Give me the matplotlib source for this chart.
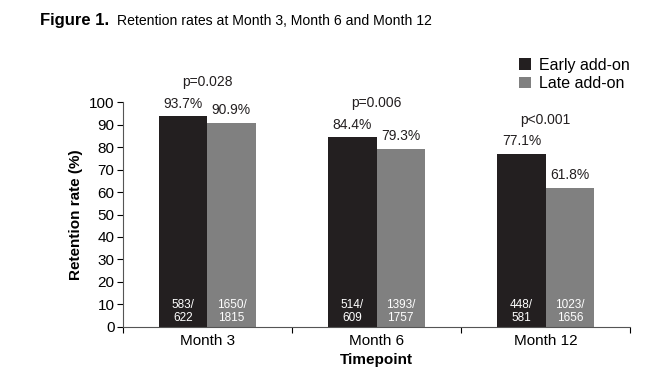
import numpy as np
import matplotlib.pyplot as plt

plt.rcParams['font.family'] = ['Liberation Sans', 'DejaVu Sans']

timepoints = ["Month 3", "Month 6", "Month 12"]
early = [93.7, 84.4, 77.1]
late = [90.9, 79.3, 61.8]
early_n = ["583/\n622", "514/\n609", "448/\n581"]
late_n = ["1650/\n1815", "1393/\n1757", "1023/\n1656"]
pvals = ["p=0.028", "p=0.006", "p<0.001"]

c_early = "#231f20"
c_late = "#808080"

fig = plt.figure(figsize=(6.67, 3.81), dpi=100)
ax = fig.add_axes([0.184, 0.142, 0.761, 0.59])

x = np.arange(len(timepoints))
w = 0.285
ax.bar(x - w / 2, early, w, color=c_early, label="Early add-on")
ax.bar(x + w / 2, late, w, color=c_late, label="Late add-on")

for i in range(len(x)):
    ax.text(x[i] - w / 2, early[i] + 2.5, f"{early[i]}%", ha="center", va="bottom",
            fontsize=10, color="#231f20", clip_on=False)
    ax.text(x[i] + w / 2, late[i] + 2.5, f"{late[i]}%", ha="center", va="bottom",
            fontsize=10, color="#231f20", clip_on=False)
    ax.text(x[i] - w / 2, 6.8, early_n[i], ha="center", va="center", fontsize=8.5,
            color="white", linespacing=1.05)
    ax.text(x[i] + w / 2, 6.8, late_n[i], ha="center", va="center", fontsize=8.5,
            color="white", linespacing=1.05)
    top = max(early[i], late[i])
    ax.text(x[i], top + 12, pvals[i], ha="center", va="bottom", fontsize=10,
            color="#231f20", clip_on=False)

ax.set_xlim(-0.5, 2.5)
ax.set_ylim(0, 100)
ax.set_yticks(np.arange(0, 101, 10))
ax.set_xticks([-0.5, 0.5, 1.5, 2.5], minor=False)
ax.set_xticklabels([])
ax.set_xticks(x, minor=True)
ax.set_xticklabels(timepoints, minor=True, fontsize=11)
ax.tick_params(axis="x", which="minor", length=0, pad=5)
ax.tick_params(axis="x", which="major", length=4, direction="out")
ax.tick_params(axis="y", labelsize=11, length=4, pad=2)
for s in ["top", "right"]:
    ax.spines[s].set_visible(False)
ax.spines["left"].set_color("#555555")
ax.spines["bottom"].set_color("#555555")
ax.set_ylabel("Retention rate (%)", fontsize=11, fontweight="bold", labelpad=4)
ax.set_xlabel("Timepoint", fontsize=11, fontweight="bold", labelpad=4)

ax.legend(loc="upper left", bbox_to_anchor=(0.778, 0.848), bbox_transform=fig.transFigure,
          frameon=False, fontsize=11.5, handlelength=0.75, handleheight=0.75,
          handletextpad=0.5, labelspacing=0.2, borderaxespad=0, borderpad=0)

fig.text(0.06, 0.945, "Figure 1.", fontsize=12, fontweight="bold", va="center")
fig.text(0.175, 0.945, "Retention rates at Month 3, Month 6 and Month 12", fontsize=10.1,
         va="center")

fig.savefig("out.png", dpi=100)
